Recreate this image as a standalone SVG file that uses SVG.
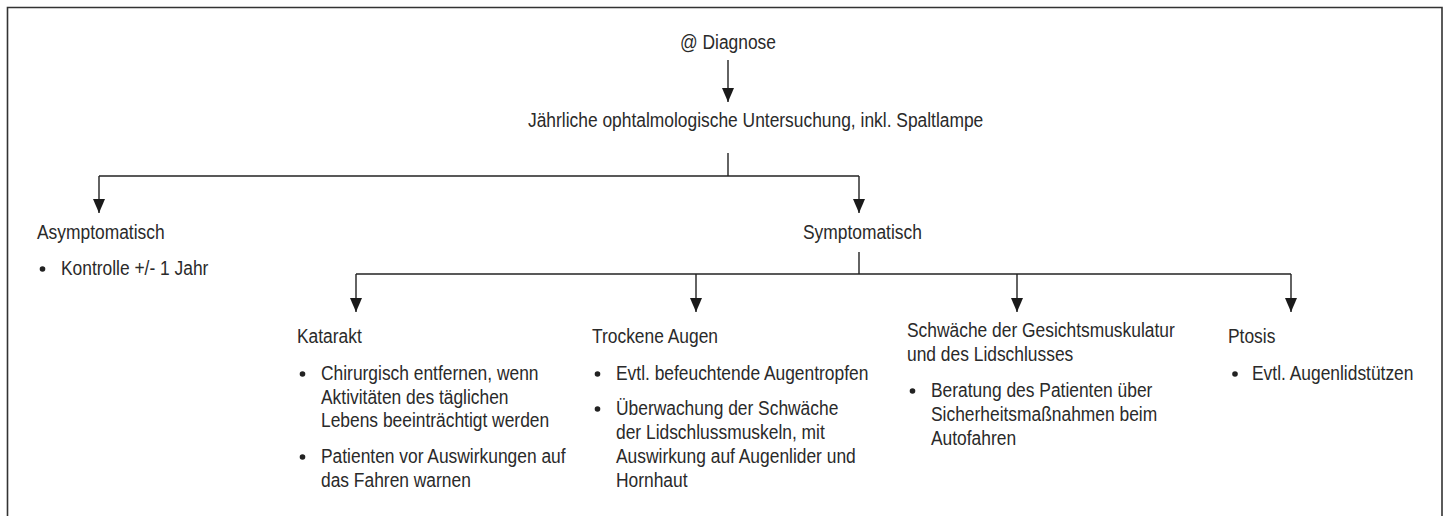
<svg xmlns="http://www.w3.org/2000/svg" width="1448" height="516" viewBox="0 0 1448 516">
<style>
text{font-family:"Liberation Sans",Arial,sans-serif;font-size:20px;fill:#2a2a2a}
.ln{stroke:#222;stroke-width:1.4;fill:none}
.fr{stroke:#333;stroke-width:1.6;fill:none}
.dot{fill:#222}
</style>
<defs>
<marker id="ah" viewBox="0 0 14 12" refX="14" refY="6" markerWidth="14" markerHeight="12" markerUnits="userSpaceOnUse" orient="auto">
<path d="M0,0 L14,6 L0,12 z" fill="#1a1a1a"/>
</marker>
</defs>
<rect width="1448" height="516" fill="#fff"/>
<path class="fr" d="M7.5,516 V7.5 H1442 V516"/>
<g id="connectors">
<path class="ln" d="M728,60 V102" marker-end="url(#ah)"/>
<path class="ln" d="M728,153 V176"/>
<path class="ln" d="M99,176 H859"/>
<path class="ln" d="M99,176 V213" marker-end="url(#ah)"/>
<path class="ln" d="M859,176 V213" marker-end="url(#ah)"/>
<path class="ln" d="M859,252 V274"/>
<path class="ln" d="M356,274 H1291"/>
<path class="ln" d="M356,274 V312" marker-end="url(#ah)"/>
<path class="ln" d="M696,274 V312" marker-end="url(#ah)"/>
<path class="ln" d="M1017,274 V312" marker-end="url(#ah)"/>
<path class="ln" d="M1291,274 V312" marker-end="url(#ah)"/>
</g>
<g id="diagnose"><text transform="matrix(0.87 0 0 1 680 49)">@ Diagnose</text></g>
<g id="untersuchung"><text transform="matrix(0.87 0 0 1 528 127)">Jährliche ophtalmologische Untersuchung, inkl. Spaltlampe</text></g>
<g id="asymptomatisch">
<text transform="matrix(0.87 0 0 1 37 239)">Asymptomatisch</text>
<circle class="dot" cx="42.5" cy="269" r="2.8"/>
<text transform="matrix(0.87 0 0 1 61 275)">Kontrolle +/- 1 Jahr</text>
</g>
<g id="symptomatisch"><text transform="matrix(0.87 0 0 1 803 239)">Symptomatisch</text></g>
<g id="katarakt">
<text transform="matrix(0.87 0 0 1 297 343)">Katarakt</text>
<circle class="dot" cx="302.5" cy="374" r="2.8"/>
<text transform="matrix(0.87 0 0 1 321 380)">Chirurgisch entfernen, wenn</text>
<text transform="matrix(0.87 0 0 1 321 403.5)">Aktivitäten des täglichen</text>
<text transform="matrix(0.87 0 0 1 321 427)">Lebens beeinträchtigt werden</text>
<circle class="dot" cx="302.5" cy="457" r="2.8"/>
<text transform="matrix(0.87 0 0 1 321 463)">Patienten vor Auswirkungen auf</text>
<text transform="matrix(0.87 0 0 1 321 487)">das Fahren warnen</text>
</g>
<g id="trockene">
<text transform="matrix(0.87 0 0 1 592 343)">Trockene Augen</text>
<circle class="dot" cx="597.5" cy="374" r="2.8"/>
<text transform="matrix(0.87 0 0 1 616 380)">Evtl. befeuchtende Augentropfen</text>
<circle class="dot" cx="597.5" cy="409" r="2.8"/>
<text transform="matrix(0.87 0 0 1 616 415)">Überwachung der Schwäche</text>
<text transform="matrix(0.87 0 0 1 616 439)">der Lidschlussmuskeln, mit</text>
<text transform="matrix(0.87 0 0 1 616 463)">Auswirkung auf Augenlider und</text>
<text transform="matrix(0.87 0 0 1 616 487)">Hornhaut</text>
</g>
<g id="schwaeche">
<text transform="matrix(0.87 0 0 1 907 337)">Schwäche der Gesichtsmuskulatur</text>
<text transform="matrix(0.87 0 0 1 907 361)">und des Lidschlusses</text>
<circle class="dot" cx="912.5" cy="391" r="2.8"/>
<text transform="matrix(0.87 0 0 1 931 397)">Beratung des Patienten über</text>
<text transform="matrix(0.87 0 0 1 931 421)">Sicherheitsmaßnahmen beim</text>
<text transform="matrix(0.87 0 0 1 931 445)">Autofahren</text>
</g>
<g id="ptosis">
<text transform="matrix(0.87 0 0 1 1228 343)">Ptosis</text>
<circle class="dot" cx="1235" cy="374" r="2.8"/>
<text transform="matrix(0.87 0 0 1 1252 380)">Evtl. Augenlidstützen</text>
</g>
</svg>
